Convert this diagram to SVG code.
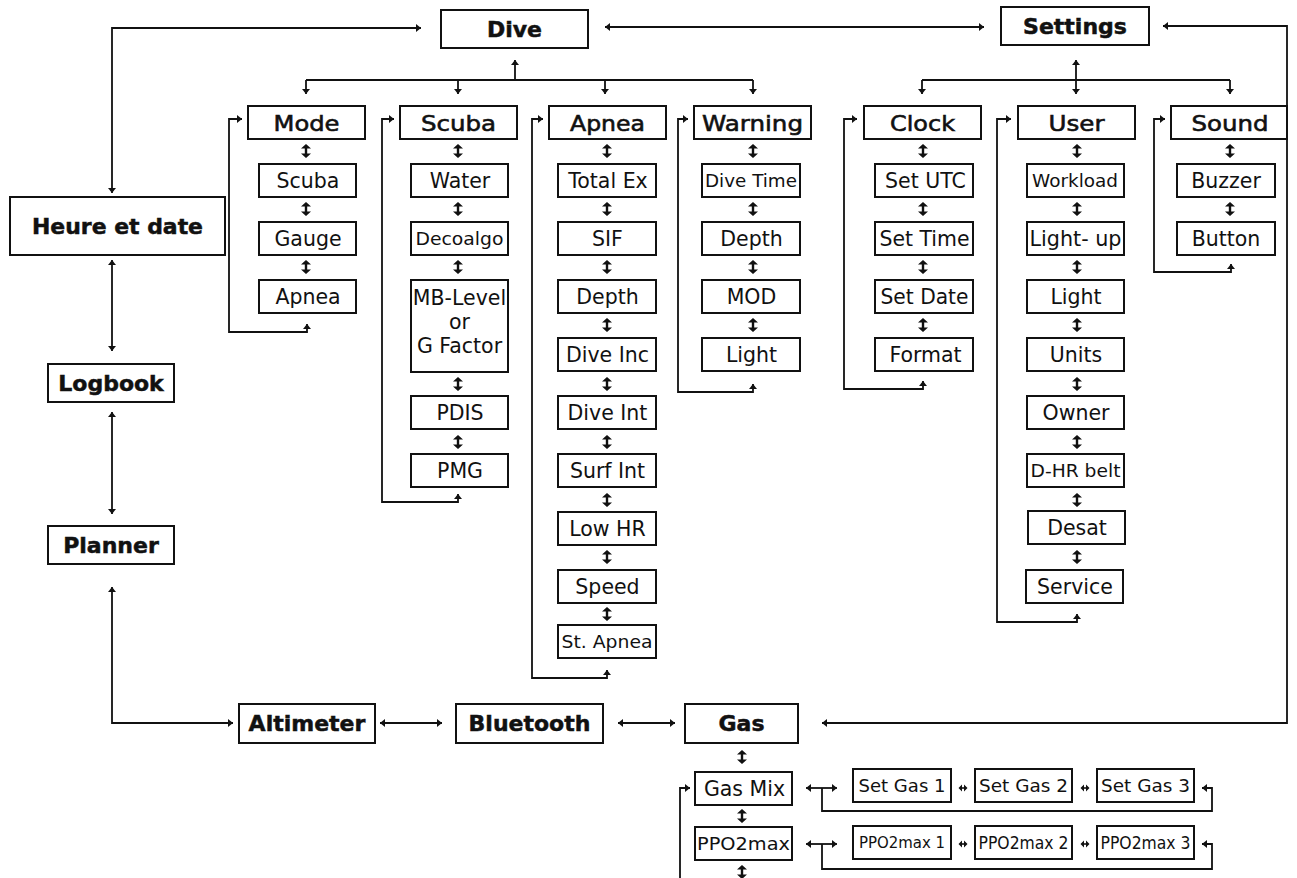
<svg xmlns="http://www.w3.org/2000/svg" xmlns:xlink="http://www.w3.org/1999/xlink" width="1297" height="878" viewBox="0 0 1297 878">
<style>
.bx{fill:#fff;stroke:#111;stroke-width:2}
.ln{fill:none;stroke:#111;stroke-width:1.8}
.a2{marker-start:url(#ah);marker-end:url(#ah)}
.a1{marker-end:url(#ah)}
.as{marker-start:url(#ah)}
.t{font-family:"DejaVu Sans",sans-serif;fill:#111;text-anchor:middle}
.main{font-weight:bold;font-size:22px;stroke:#111;stroke-width:0.5}
.sub{font-size:22px;stroke:#111;stroke-width:0.6}
.leaf{font-size:20.5px}
.sm{font-size:18px}
</style>
<defs>
<marker id="ah" viewBox="0 0 5 8" refX="5" refY="4" markerWidth="5" markerHeight="8" markerUnits="userSpaceOnUse" orient="auto-start-reverse"><path d="M0,0 L5,4 L0,8 Z" fill="#111"/></marker>
<g id="dv"><path d="M0,-3.5 V3.5" stroke="#111" stroke-width="2.4"/><path d="M-5,-2.5 L0,-7 L5,-2.5 Z M-5,2.5 L0,7 L5,2.5 Z" fill="#111"/></g>
<g id="dh"><path d="M-2,0 H2" stroke="#111" stroke-width="1.6"/><path d="M-1,-3.5 L-4.5,0 L-1,3.5 Z M1,-3.5 L4.5,0 L1,3.5 Z" fill="#111"/></g>
</defs>
<rect width="1297" height="878" fill="#fff"/>

<g id="connectors">
<path class="ln a2" d="M112,193 V28 H421"/>
<path class="ln a2" d="M605,27 H984"/>
<path class="ln a2" d="M1163,26 H1287 V723 H822"/>
<path class="ln a1" d="M515,80 V60"/>
<path class="ln" d="M306,80 H753"/>
<path class="ln a1" d="M306,80 V94"/>
<path class="ln a1" d="M458,80 V94"/>
<path class="ln a1" d="M605,80 V94"/>
<path class="ln a1" d="M753,80 V94"/>
<path class="ln a2" d="M1076,60 V94"/>
<path class="ln" d="M922,80 H1230"/>
<path class="ln a1" d="M922,80 V94"/>
<path class="ln a1" d="M1230,80 V94"/>
<path class="ln a2" d="M242,119 H229 V332 H307 V324"/>
<path class="ln a2" d="M394,119 H382 V502 H458 V494"/>
<path class="ln a2" d="M543,119 H532 V678 H607 V670"/>
<path class="ln a2" d="M688,119 H678 V392 H753 V384"/>
<path class="ln a2" d="M857,119 H844 V389 H923 V381"/>
<path class="ln a2" d="M1011,119 H997 V622 H1077 V614"/>
<path class="ln a2" d="M1165,119 H1154 V272 H1231 V264"/>
<path class="ln a2" d="M112,260 V351"/>
<path class="ln a2" d="M112,412 V514"/>
<path class="ln a2" d="M112,587 V723 H233"/>
<path class="ln a2" d="M380,723 H442"/>
<path class="ln a2" d="M618,723 H675"/>
<path class="ln as" d="M690,788 H680 V880"/>
<path class="ln a2" d="M806,788 H837"/>
<path class="ln a1" d="M822,788 V811 H1212 V788 H1202"/>
<path class="ln a2" d="M806,844 H837"/>
<path class="ln a1" d="M822,844 V869 H1212 V844 H1202"/>
<use href="#dv" x="306" y="151"/><use href="#dv" x="306" y="209"/><use href="#dv" x="306" y="267"/>
<use href="#dv" x="458" y="151"/><use href="#dv" x="458" y="209"/><use href="#dv" x="458" y="267"/><use href="#dv" x="458" y="384"/><use href="#dv" x="458" y="442"/>
<use href="#dv" x="607" y="151"/><use href="#dv" x="607" y="209"/><use href="#dv" x="607" y="267"/><use href="#dv" x="607" y="325"/><use href="#dv" x="607" y="384"/><use href="#dv" x="607" y="442"/><use href="#dv" x="607" y="500"/><use href="#dv" x="607" y="557"/><use href="#dv" x="607" y="614"/>
<use href="#dv" x="753" y="151"/><use href="#dv" x="753" y="209"/><use href="#dv" x="753" y="267"/><use href="#dv" x="753" y="325"/>
<use href="#dv" x="923" y="151"/><use href="#dv" x="923" y="209"/><use href="#dv" x="923" y="267"/><use href="#dv" x="923" y="325"/>
<use href="#dv" x="1077" y="151"/><use href="#dv" x="1077" y="209"/><use href="#dv" x="1077" y="267"/><use href="#dv" x="1077" y="325"/><use href="#dv" x="1077" y="384"/><use href="#dv" x="1077" y="442"/><use href="#dv" x="1077" y="500"/><use href="#dv" x="1077" y="557"/>
<use href="#dv" x="1230" y="151"/><use href="#dv" x="1230" y="209"/>
<use href="#dv" x="742" y="757"/><use href="#dv" x="742" y="816"/><use href="#dv" x="742" y="872"/>
<use href="#dh" x="963" y="788"/><use href="#dh" x="1085" y="788"/>
<use href="#dh" x="963" y="844"/><use href="#dh" x="1085" y="844"/>
</g>

<g id="dive"><rect class="bx" x="441" y="10" width="147" height="38"/><text class="t main" x="514.5" y="37">Dive</text></g>
<g id="settings"><rect class="bx" x="1001" y="7" width="148" height="38"/><text class="t main" x="1075" y="34">Settings</text></g>
<g id="heure"><rect class="bx" x="10" y="197" width="215" height="58"/><text class="t main" x="117.5" y="234" textLength="171" lengthAdjust="spacingAndGlyphs">Heure et date</text></g>
<g id="logbook"><rect class="bx" x="48" y="364" width="126" height="38"/><text class="t main" x="111" y="391">Logbook</text></g>
<g id="planner"><rect class="bx" x="48" y="526" width="126" height="38"/><text class="t main" x="111" y="553">Planner</text></g>
<g id="altimeter"><rect class="bx" x="239" y="704" width="136" height="39"/><text class="t main" x="307" y="731">Altimeter</text></g>
<g id="bluetooth"><rect class="bx" x="456" y="704" width="147" height="39"/><text class="t main" x="529.5" y="731">Bluetooth</text></g>
<g id="gas"><rect class="bx" x="685" y="704" width="113" height="39"/><text class="t main" x="741.5" y="731">Gas</text></g>

<g id="mode"><rect class="bx" x="248" y="106" width="117" height="33"/><text class="t sub" x="306.5" y="131" textLength="66" lengthAdjust="spacingAndGlyphs">Mode</text></g>
<g id="scuba"><rect class="bx" x="400" y="106" width="117" height="33"/><text class="t sub" x="458.5" y="131" textLength="75" lengthAdjust="spacingAndGlyphs">Scuba</text></g>
<g id="apnea"><rect class="bx" x="549" y="106" width="117" height="33"/><text class="t sub" x="607.5" y="131" textLength="75" lengthAdjust="spacingAndGlyphs">Apnea</text></g>
<g id="warning"><rect class="bx" x="694" y="106" width="117" height="33"/><text class="t sub" x="752.5" y="131" textLength="101" lengthAdjust="spacingAndGlyphs">Warning</text></g>
<g id="clock"><rect class="bx" x="864" y="106" width="117" height="33"/><text class="t sub" x="922.5" y="131" textLength="65" lengthAdjust="spacingAndGlyphs">Clock</text></g>
<g id="user"><rect class="bx" x="1018" y="106" width="117" height="33"/><text class="t sub" x="1076.5" y="131" textLength="56" lengthAdjust="spacingAndGlyphs">User</text></g>
<g id="sound"><rect class="bx" x="1171" y="106" width="116" height="33"/><text class="t sub" x="1230" y="131" textLength="77" lengthAdjust="spacingAndGlyphs">Sound</text></g>

<g id="mode-scuba"><rect class="bx" x="259" y="164" width="97" height="33"/><text class="t leaf" x="308" y="187.5">Scuba</text></g>
<g id="mode-gauge"><rect class="bx" x="259" y="222" width="97" height="33"/><text class="t leaf" x="308" y="245.5">Gauge</text></g>
<g id="mode-apnea"><rect class="bx" x="259" y="280" width="97" height="33"/><text class="t leaf" x="308" y="303.5">Apnea</text></g>

<g id="scuba-water"><rect class="bx" x="411" y="164" width="97" height="33"/><text class="t leaf" x="460" y="187.5">Water</text></g>
<g id="scuba-decoalgo"><rect class="bx" x="411" y="222" width="97" height="33"/><text class="t sm" x="459.5" y="245" textLength="88" lengthAdjust="spacingAndGlyphs">Decoalgo</text></g>
<g id="scuba-mb"><rect class="bx" x="411" y="280" width="97" height="92"/><text class="t leaf" x="459.5" y="305">MB-Level</text><text class="t leaf" x="459.5" y="329">or</text><text class="t leaf" x="459.5" y="353">G Factor</text></g>
<g id="scuba-pdis"><rect class="bx" x="411" y="396" width="97" height="33"/><text class="t leaf" x="460" y="419.5">PDIS</text></g>
<g id="scuba-pmg"><rect class="bx" x="411" y="454" width="97" height="33"/><text class="t leaf" x="460" y="477.5">PMG</text></g>

<g id="apnea-totalex"><rect class="bx" x="558" y="164" width="98" height="33"/><text class="t leaf" x="608" y="187.5">Total Ex</text></g>
<g id="apnea-sif"><rect class="bx" x="558" y="222" width="98" height="33"/><text class="t leaf" x="607.5" y="245.5">SIF</text></g>
<g id="apnea-depth"><rect class="bx" x="558" y="280" width="98" height="33"/><text class="t leaf" x="607.5" y="303.5">Depth</text></g>
<g id="apnea-diveinc"><rect class="bx" x="558" y="338" width="98" height="33"/><text class="t leaf" x="607.5" y="361.5">Dive Inc</text></g>
<g id="apnea-diveint"><rect class="bx" x="558" y="396" width="98" height="33"/><text class="t leaf" x="607.5" y="419.5">Dive Int</text></g>
<g id="apnea-surfint"><rect class="bx" x="558" y="454" width="98" height="33"/><text class="t leaf" x="607.5" y="477.5">Surf Int</text></g>
<g id="apnea-lowhr"><rect class="bx" x="558" y="512" width="98" height="33"/><text class="t leaf" x="607.5" y="535.5">Low HR</text></g>
<g id="apnea-speed"><rect class="bx" x="558" y="570" width="98" height="33"/><text class="t leaf" x="607.5" y="593.5">Speed</text></g>
<g id="apnea-stapnea"><rect class="bx" x="558" y="625" width="98" height="33"/><text class="t sm" x="607" y="648" textLength="91" lengthAdjust="spacingAndGlyphs">St. Apnea</text></g>

<g id="warning-divetime"><rect class="bx" x="702" y="164" width="98" height="33"/><text class="t sm" x="751" y="187" textLength="92" lengthAdjust="spacingAndGlyphs">Dive Time</text></g>
<g id="warning-depth"><rect class="bx" x="702" y="222" width="98" height="33"/><text class="t leaf" x="751.5" y="245.5">Depth</text></g>
<g id="warning-mod"><rect class="bx" x="702" y="280" width="98" height="33"/><text class="t leaf" x="751.5" y="303.5">MOD</text></g>
<g id="warning-light"><rect class="bx" x="702" y="338" width="98" height="33"/><text class="t leaf" x="751.5" y="361.5">Light</text></g>

<g id="clock-setutc"><rect class="bx" x="875" y="164" width="98" height="33"/><text class="t leaf" x="925.5" y="187.5">Set UTC</text></g>
<g id="clock-settime"><rect class="bx" x="875" y="222" width="98" height="33"/><text class="t leaf" x="924.5" y="245.5" textLength="90" lengthAdjust="spacingAndGlyphs">Set Time</text></g>
<g id="clock-setdate"><rect class="bx" x="875" y="280" width="98" height="33"/><text class="t leaf" x="924.5" y="303.5" textLength="88" lengthAdjust="spacingAndGlyphs">Set Date</text></g>
<g id="clock-format"><rect class="bx" x="875" y="338" width="98" height="33"/><text class="t leaf" x="925.5" y="361.5">Format</text></g>

<g id="user-workload"><rect class="bx" x="1027" y="164" width="97" height="33"/><text class="t sm" x="1075" y="186.5" textLength="86" lengthAdjust="spacingAndGlyphs">Workload</text></g>
<g id="user-lightup"><rect class="bx" x="1027" y="222" width="97" height="33"/><text class="t leaf" x="1075.5" y="245.5" textLength="92" lengthAdjust="spacingAndGlyphs">Light- up</text></g>
<g id="user-light"><rect class="bx" x="1027" y="280" width="97" height="33"/><text class="t leaf" x="1076" y="303.5">Light</text></g>
<g id="user-units"><rect class="bx" x="1027" y="338" width="97" height="33"/><text class="t leaf" x="1076" y="361.5">Units</text></g>
<g id="user-owner"><rect class="bx" x="1027" y="396" width="97" height="33"/><text class="t leaf" x="1076" y="419.5">Owner</text></g>
<g id="user-dhrbelt"><rect class="bx" x="1027" y="454" width="97" height="33"/><text class="t sm" x="1075.5" y="477" textLength="90" lengthAdjust="spacingAndGlyphs">D-HR belt</text></g>
<g id="user-desat"><rect class="bx" x="1028" y="511" width="97" height="33"/><text class="t leaf" x="1077" y="534.5">Desat</text></g>
<g id="user-service"><rect class="bx" x="1026" y="570" width="97" height="33"/><text class="t leaf" x="1075" y="593.5">Service</text></g>

<g id="sound-buzzer"><rect class="bx" x="1177" y="164" width="98" height="33"/><text class="t leaf" x="1226" y="187.5">Buzzer</text></g>
<g id="sound-button"><rect class="bx" x="1177" y="222" width="98" height="33"/><text class="t leaf" x="1226" y="245.5">Button</text></g>

<g id="gas-gasmix"><rect class="bx" x="695" y="772" width="97" height="33"/><text class="t leaf" x="744.5" y="795.5">Gas Mix</text></g>
<g id="gas-ppo2max"><rect class="bx" x="695" y="827" width="97" height="33"/><text class="t sm" x="743.5" y="850" textLength="93" lengthAdjust="spacingAndGlyphs">PPO2max</text></g>
<g id="setgas1"><rect class="bx" x="853" y="769" width="98" height="33"/><text class="t sm" x="902" y="792" textLength="87" lengthAdjust="spacingAndGlyphs">Set Gas 1</text></g>
<g id="setgas2"><rect class="bx" x="975" y="769" width="97" height="33"/><text class="t sm" x="1023.5" y="792" textLength="89" lengthAdjust="spacingAndGlyphs">Set Gas 2</text></g>
<g id="setgas3"><rect class="bx" x="1097" y="769" width="97" height="33"/><text class="t sm" x="1145.5" y="792" textLength="89" lengthAdjust="spacingAndGlyphs">Set Gas 3</text></g>
<g id="ppo2max1"><rect class="bx" x="853" y="826" width="98" height="33"/><text class="t" style="font-size:15px" x="902" y="847.5" textLength="86" lengthAdjust="spacingAndGlyphs">PPO2max 1</text></g>
<g id="ppo2max2"><rect class="bx" x="975" y="826" width="97" height="33"/><text class="t sm" x="1023.5" y="849" textLength="90" lengthAdjust="spacingAndGlyphs">PPO2max 2</text></g>
<g id="ppo2max3"><rect class="bx" x="1097" y="826" width="97" height="33"/><text class="t sm" x="1145.5" y="849" textLength="90" lengthAdjust="spacingAndGlyphs">PPO2max 3</text></g>
</svg>
